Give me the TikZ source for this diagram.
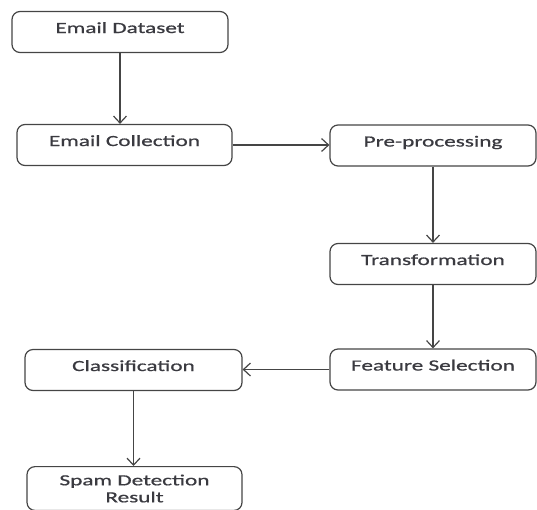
\documentclass[tikz,border=0pt]{standalone}
\usepackage{fontspec}
\setmainfont{Carlito}[FakeStretch=1.5,FakeBold=0.8]
\usetikzlibrary{
  arrows.meta,
  positioning,
}
\definecolor{linegrey}{HTML}{454545}
\definecolor{textgrey}{HTML}{3A3A40}
\tikzset{
  >={Straight Barb[length=7pt,width=13pt]},
  stage/.style={rectangle,draw=linegrey,rounded corners=8pt,line width=1.2pt,minimum height=41,inner sep=0pt,text height=10pt,text depth=8pt,text=textgrey,font=\fontsize{15.5}{17}\selectfont},
  flow/.style={->,draw=linegrey,line width=1.2pt},
}
\begin{document}
\begin{tikzpicture}[x=1pt,y=-1pt]

        \useasboundingbox (0,0) rectangle (537,509);

        \node[stage,minimum width=216] (dataset) at (120,32)    {Email Dataset};
        \node[stage,minimum width=215] (collect) at (124.5,145) {Email Collection};
        \node[stage,minimum width=206] (preproc) at (433,145.5) {Pre-processing};
        \node[stage,minimum width=206] (transf)  at (433,264)   {Transformation};
        \node[stage,minimum width=206] (featsel) at (433,369.5) {Feature Selection};
        \node[stage,minimum width=217] (classif) at (133.5,370) {Classification};
        \node[stage,minimum width=215,anchor=north,text height=,text depth=,inner ysep=8pt,align=center] (result) at (134.5,466) {Spam Detection\\Result};

        \draw[flow] (dataset.south) -- (dataset.south |- collect.north);
        \draw[flow] (collect.east) -- (collect.east -| preproc.west);
        \draw[flow] (preproc.south) -- (transf.north);
        \draw[flow] (transf.south) -- (featsel.north);
        \draw[flow] (featsel.west) -- (featsel.west -| classif.east);
        \draw[flow] (classif.south) -- (classif.south |- result.north);

      \end{tikzpicture}
\end{document}
